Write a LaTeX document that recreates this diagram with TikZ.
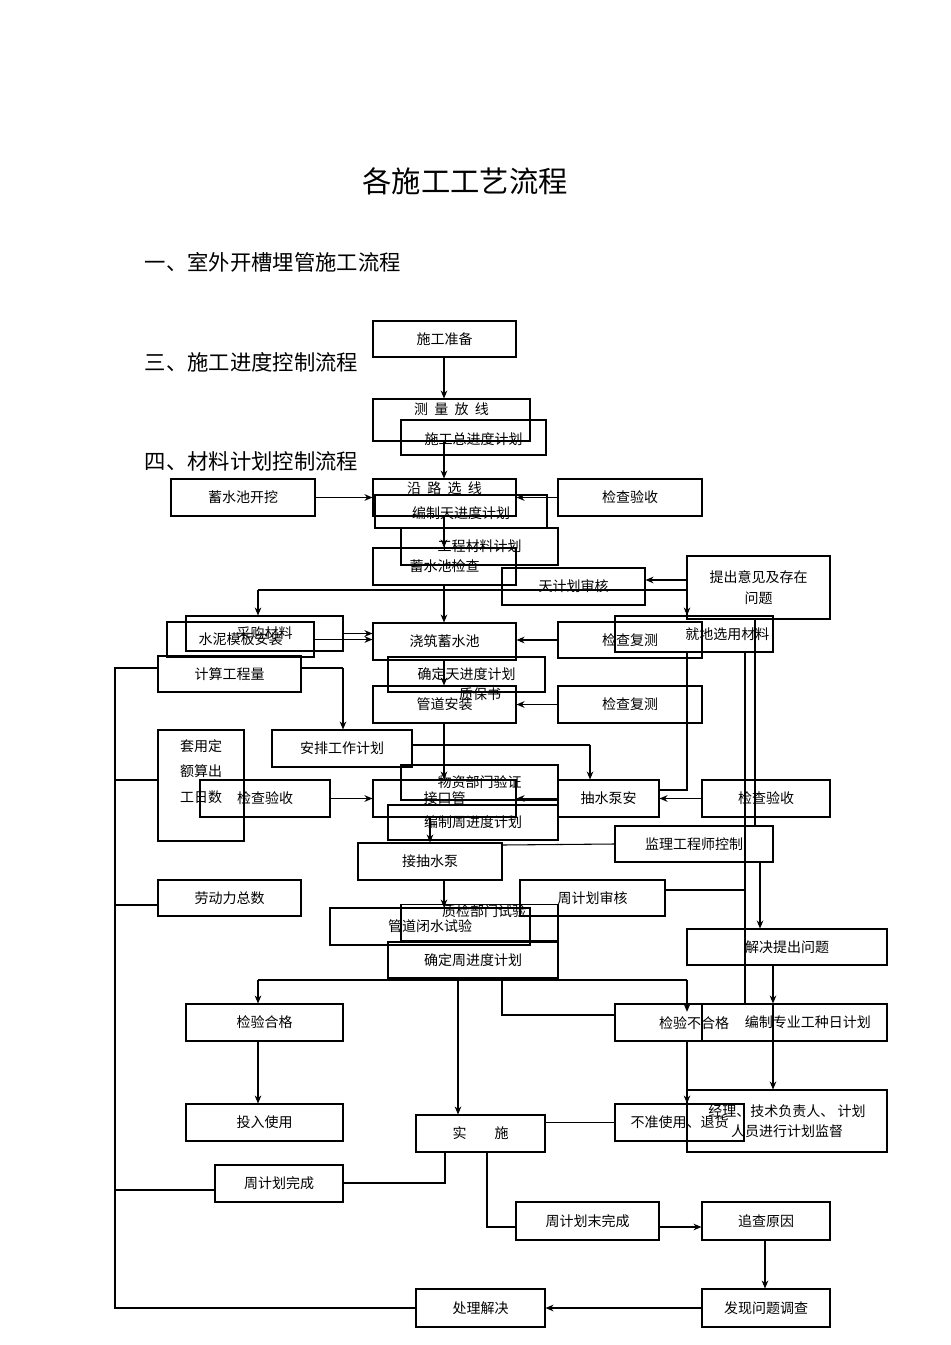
\documentclass[tikz,border=0pt]{standalone}
\usepackage{fontspec}
\setmainfont{Noto Sans CJK SC}
\usetikzlibrary{arrows.meta}
\tikzset{bx/.style={draw,thick,rectangle,inner sep=0pt,font=\fontsize{10.5}{12}\selectfont,align=center},
ar/.style={-{Stealth[length=6pt,width=5pt]},thick},ln/.style={thick}}
\newcommand\bx[6]{\node[bx,minimum width={(#4-#2)*0.75pt},minimum height={(#5-#3)*0.75pt}] (#1) at ({(#2+#4)/2},{(#3+#5)/2}) {#6};}
\begin{document}
\begin{tikzpicture}[x=0.75pt,y=-0.75pt]
\useasboundingbox (0,0) rectangle (950,1345);
\node[font=\fontsize{22}{24}\selectfont] (title) at (465,181) {各施工工艺流程};
\node[anchor=west,font=\fontsize{16}{18}\selectfont] (h1) at (140,262) {一、室外开槽埋管施工流程};
\node[anchor=west,font=\fontsize{16}{18}\selectfont] (h3) at (140,362) {三、施工进度控制流程};
\node[anchor=west,font=\fontsize{16}{18}\selectfont] (h4) at (140,461) {四、材料计划控制流程};
\bx{C}{401}{420}{546}{455}{\\施工总进度计划}
\bx{A}{373}{321}{516}{357}{施工准备}
\bx{B}{373}{399}{530}{441}{测\ \ 量\ \ 放\ \ 线\\[5pt]}
\bx{D}{171}{479}{315}{516}{蓄水池开挖}
\bx{F}{375}{495}{547}{528}{\\编制天进度计划}
\bx{E}{373}{479}{516}{516}{沿\ \ 路\ \ 选\ \ 线\\[3pt]}
\bx{G}{558}{479}{702}{516}{检查验收}
\bx{H}{401}{528}{558}{565}{工程材料计划}
\bx{I}{373}{548}{516}{585}{蓄水池检查}
\bx{J}{502}{568}{645}{605}{天计划审核}
\bx{K}{687}{556}{830}{619}{提出意见及存在\\[4pt]问题}
\bx{L}{186}{616}{343}{651}{采购材料}
\bx{M}{167}{622}{314}{657}{水泥模板安装}
\bx{N}{373}{623}{516}{660}{浇筑蓄水池}
\bx{P}{615}{616}{773}{652}{\hspace{50pt}就地选用材料}
\bx{O}{558}{622}{702}{658}{检查复测}
\bx{Q}{158}{656}{301}{692}{计算工程量}
\bx{R}{388}{657}{545}{692}{确定天进度计划}
\bx{T}{373}{686}{516}{723}{管道安装}
\node[font=\fontsize{10.5}{12}\selectfont] (S) at (480,694) {质保书};
\bx{U}{558}{686}{702}{723}{检查复测}
\bx{V}{158}{730}{244}{841}{套用定\\[7pt]额算出\\[7pt]工日数\\[10pt]}
\bx{W}{272}{730}{412}{767}{安排工作计划}
\bx{X}{401}{765}{558}{800}{物资部门验证}
\bx{Y}{200}{780}{330}{817}{检查验收}
\bx{AC}{388}{805}{558}{840}{编制周进度计划}
\bx{Z}{373}{780}{516}{817}{接口管}
\bx{AA}{558}{780}{659}{817}{抽水泵安}
\bx{AB}{702}{780}{830}{817}{检查验收}
\bx{AD}{615}{826}{773}{862}{监理工程师控制}
\bx{AE}{358}{843}{502}{880}{接抽水泵}
\bx{AF}{158}{880}{301}{916}{劳动力总数}
\bx{AG}{520}{880}{665}{916}{周计划审核}
\bx{AH}{401}{905}{558}{940}{\ \ \ 质检部门试验\\[6pt]}
\bx{AI}{330}{908}{530}{945}{管道闭水试验}
\bx{AJ}{388}{942}{558}{978}{确定周进度计划}
\bx{AK}{687}{929}{887}{965}{解决提出问题}
\bx{AL}{186}{1004}{343}{1041}{检验合格}
\bx{AN}{702}{1004}{887}{1041}{\hspace{20pt}编制专业工种日计划}
\node[font=\fontsize{10.5}{12}\selectfont] (AM) at (694,1023) {检验不合格};
\draw[thick] (615,1004) rectangle (773,1041);
\bx{AO}{186}{1104}{343}{1141}{投入使用}
\bx{AP}{416}{1115}{545}{1152}{实\qquad 施}
\bx{AR}{687}{1090}{887}{1152}{经理、技术负责人、 计划\\[3pt]人员进行计划监督}
\bx{AQ}{615}{1104}{744}{1141}{不准使用、退货}
\bx{AS}{215}{1165}{343}{1202}{周计划完成}
\bx{AT}{516}{1202}{659}{1240}{周计划末完成}
\bx{AU}{702}{1202}{830}{1240}{追查原因}
\bx{AV}{416}{1289}{545}{1327}{处理解决}
\bx{AW}{702}{1289}{830}{1327}{发现问题调查}
% connectors
\coordinate (cx) at (444,0);
\draw[ar] (A.south -| cx) -- (B.north -| cx);
\draw[ar] (B.south -| cx) -- (E.north -| cx);
\draw[ar] (D.east) -- (D.east -| E.west);
\draw[ar] (G.west) -- (G.west -| E.east);
\draw[ar] (E.south -| cx) -- (I.north -| cx);
\draw[ar] (I.south -| cx) -- (N.north -| cx);
\coordinate (bL) at (258,590); \coordinate (bR) at (687,590);
\draw[ln] (bL) -- (bR);
\draw[ar] (bL) -- (bL |- L.north);
\draw[ar] (bR) -- (bR |- P.north);
\draw[ar] (L.east) -- (L.east -| N.west);
\draw[ar] (M.east) -- (M.east -| N.west);
\draw[ar] (O.west) -- (O.west -| N.east);
\draw[ar] (K.west |- 0,580) -- (J.east |- 0,580);
\draw[ar] (N.south -| cx) -- (T.north -| cx);
\draw[ar] (U.west) -- (U.west -| T.east);
\draw[ar] (T.south -| cx) -- (Z.north -| cx);
\draw[ar] (Y.east) -- (Y.east -| Z.west);
\draw[ar] (AA.west) -- (AA.west -| Z.east);
\draw[ar] (AB.west) -- (AB.west -| AA.east);
\draw[ln] (P.south -| 687,0) -- (687,790) -- (AA.east |- 0,790);
\draw[ln] (Q.east |- 0,668) -- (343,668);
\draw[ar] (343,668) -- (W.north -| 343,0);
\draw[ln] (W.east |- 0,745) -- (590,745);
\draw[ar] (590,745) -- (AA.north -| 590,0);
\draw[ar] (Z.south -| AE.north) -- (AE.north);
\draw[ar] (AE.south -| cx) -- (AI.north -| cx);
\coordinate (cL) at (258,980); \coordinate (cR) at (687,980);
\draw[ln] (AJ.south -| 458,0) -- (458,980);
\draw[ln] (cL) -- (cR);
\draw[ar] (cL) -- (cL |- AL.north);
\draw[ar] (cR) -- (cR |- AM.north);
\draw[ln] (502,980) -- (502,1015) -- (615,1015);
\draw[ar] (458,980) -- (AP.north -| 458,0);
\draw[ar] (AL.south -| 258,0) -- (AO.north -| 258,0);
\draw[ar] (687,1041) -- (AQ.north -| 687,0);
\draw[ln] (AQ.west) -- (AQ.west -| AP.east);
\draw[ln] (AP.south -| 445,0) -- (445,1183) -- (AS.east |- 0,1183);
\draw[ln] (AP.south -| 487,0) -- (487,1227) -- (AT.west |- 0,1227);
\draw[ar] (AT.east |- 0,1227) -- (AU.west |- 0,1227);
\draw[ar] (AU.south -| 765,0) -- (AW.north -| 765,0);
\draw[ar] (AW.west) -- (AV.east);
\draw[ln] (AV.west) -- (AV.west -| 115,0) -- (115,668) -- (Q.west |- 0,668);
\draw[ln] (115,780) -- (V.west |- 0,780);
\draw[ln] (115,905) -- (AF.west |- 0,905);
\draw[ln] (115,1190) -- (AS.west |- 0,1190);
\draw[ln] (745,652) -- (745,1004);
\draw[ln] (K.south -| 755,0) -- (755,826);
\draw[ar] (AD.south -| 760,0) -- (AK.north -| 760,0);
\draw[ar] (AK.south -| 773,0) -- (AN.north -| 773,0);
\draw[ar] (AN.south -| 773,0) -- (AR.north -| 773,0);
\draw[ln] (AD.west) -- (502,845);
\draw[ln] (AG.east |- 0,890) -- (745,890);
\end{tikzpicture}
\end{document}
